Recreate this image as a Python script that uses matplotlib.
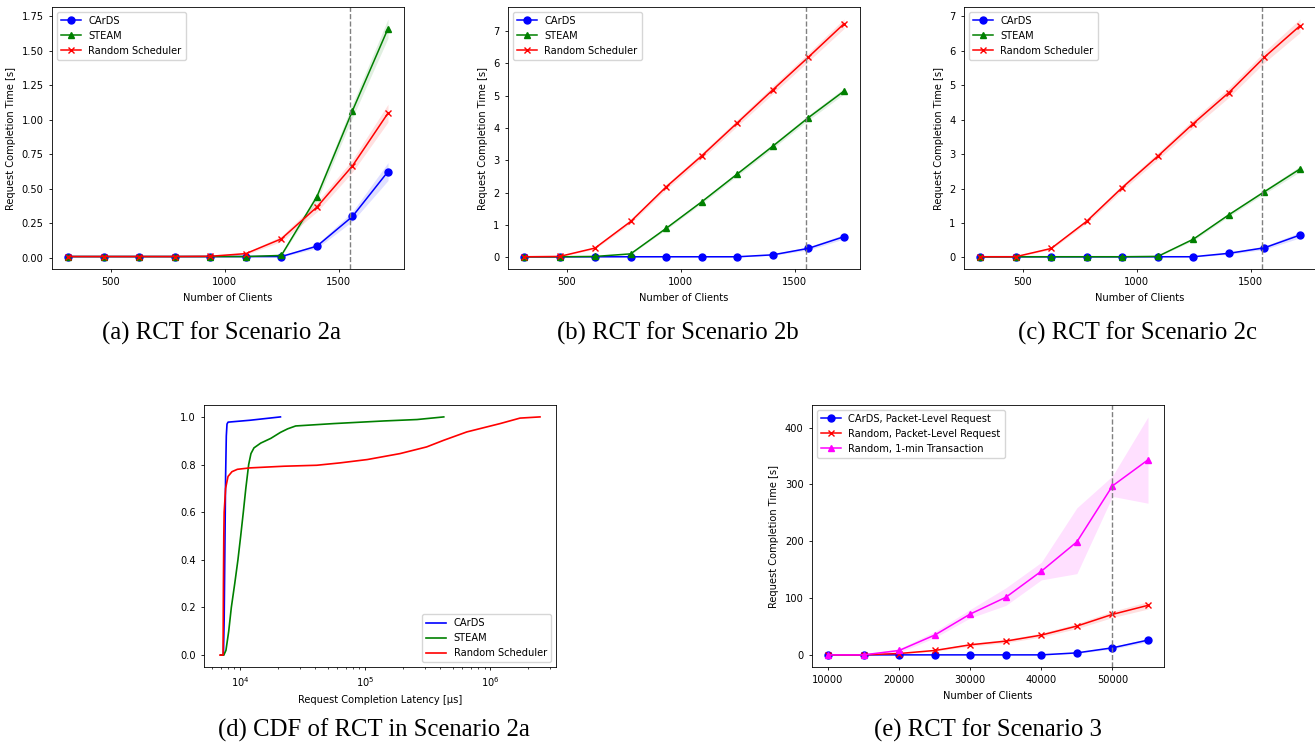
import matplotlib
matplotlib.use("Agg")
import matplotlib.pyplot as plt

# ---- data ----
clients = [312, 468, 624, 780, 936, 1092, 1248, 1404, 1560, 1716]
clients_s3 = [10000, 15000, 20000, 25000, 30000, 35000, 40000, 45000, 50000, 55000]

# scenario 2a
a_cards = [0.01, 0.01, 0.01, 0.01, 0.01, 0.01, 0.01, 0.085, 0.30, 0.625]
a_cards_err = [0.003, 0.003, 0.003, 0.003, 0.003, 0.003, 0.004, 0.015, 0.035, 0.065]
a_steam = [0.01, 0.01, 0.01, 0.01, 0.01, 0.01, 0.018, 0.443, 1.065, 1.66]
a_steam_err = [0.003, 0.003, 0.003, 0.003, 0.003, 0.003, 0.005, 0.03, 0.05, 0.07]
a_rand = [0.01, 0.01, 0.01, 0.01, 0.012, 0.031, 0.138, 0.368, 0.666, 1.048]
a_rand_err = [0.003, 0.003, 0.003, 0.003, 0.004, 0.008, 0.02, 0.035, 0.045, 0.065]

# scenario 2b
b_cards = [0.02, 0.02, 0.02, 0.02, 0.02, 0.02, 0.02, 0.08, 0.28, 0.64]
b_cards_err = [0.01, 0.01, 0.01, 0.01, 0.01, 0.01, 0.01, 0.02, 0.05, 0.07]
b_steam = [0.02, 0.02, 0.03, 0.11, 0.90, 1.72, 2.58, 3.44, 4.32, 5.14]
b_steam_err = [0.01, 0.01, 0.01, 0.02, 0.04, 0.05, 0.06, 0.07, 0.08, 0.09]
b_rand = [0.02, 0.03, 0.29, 1.11, 2.18, 3.14, 4.16, 5.18, 6.19, 7.22]
b_rand_err = [0.01, 0.01, 0.03, 0.06, 0.08, 0.09, 0.1, 0.12, 0.13, 0.15]

# scenario 2c
c_cards = [0.02, 0.02, 0.02, 0.02, 0.02, 0.02, 0.02, 0.12, 0.28, 0.65]
c_cards_err = [0.01, 0.01, 0.01, 0.01, 0.01, 0.01, 0.01, 0.03, 0.05, 0.08]
c_steam = [0.02, 0.02, 0.02, 0.02, 0.02, 0.03, 0.53, 1.24, 1.91, 2.57]
c_steam_err = [0.01, 0.01, 0.01, 0.01, 0.01, 0.01, 0.04, 0.05, 0.06, 0.08]
c_rand = [0.02, 0.02, 0.26, 1.05, 2.03, 2.94, 3.89, 4.79, 5.82, 6.73]
c_rand_err = [0.01, 0.01, 0.03, 0.06, 0.08, 0.1, 0.12, 0.14, 0.16, 0.2]

# CDF of latencies in scenario 2a  (latency [us], cdf)
cdf_cards_lat = [7000, 7350, 7450, 7550, 7650, 7750, 7850, 8000, 12000, 21000]
cdf_cards_val = [0.0, 0.0, 0.15, 0.45, 0.75, 0.92, 0.97, 0.978, 0.986, 1.0]
cdf_steam_lat = [7000, 7400, 7700, 8100, 8500, 9050, 9600, 10100, 10600, 11100,
                 11700, 12200, 12900, 14600, 17600, 21000, 24000, 27800, 56000,
                 141000, 260000, 425000]
cdf_steam_val = [0.0, 0.0, 0.02, 0.1, 0.2, 0.3, 0.4, 0.5, 0.6, 0.7,
                 0.8, 0.846, 0.87, 0.89, 0.91, 0.935, 0.95, 0.962, 0.972,
                 0.983, 0.989, 1.0]
cdf_rand_lat = [6900, 7300, 7350, 7400, 7450, 7650, 8000, 8600, 9500, 12000,
                22500, 41000, 63000, 104000, 190000, 310000, 425000, 650000,
                1200000, 1730000, 2500000]
cdf_rand_val = [0.0, 0.0, 0.3, 0.5, 0.6, 0.7, 0.75, 0.77, 0.78, 0.786,
                0.793, 0.797, 0.807, 0.821, 0.846, 0.874, 0.902, 0.937,
                0.972, 0.995, 1.0]

# scenario 3
s3_cards = [0, 0, 0, 0, 0, 0, 0, 3.5, 12.4, 26]
s3_cards_err = [0.3, 0.3, 0.3, 0.3, 0.3, 0.3, 0.4, 1.0, 2.0, 3.0]
s3_rand = [0, 0, 2.4, 7.7, 17.7, 24.2, 34.8, 50.7, 71.3, 87.2]
s3_rand_err = [0.3, 0.3, 1.0, 1.5, 2.5, 3.0, 3.5, 4.5, 5.5, 6.5]
s3_tx = [0, 0, 7.7, 34.8, 71.9, 101.3, 147.3, 199, 297.5, 343.4]
s3_tx_lo = [0, 0, 4, 30, 65, 87, 132, 143, 279, 267]
s3_tx_hi = [0.5, 0.5, 11, 41, 80, 118, 163, 259, 315, 419]

W, H = 1315, 743
plt.rcParams['font.size'] = 7.1
plt.rcParams['axes.linewidth'] = 0.6
plt.rcParams['xtick.major.width'] = 0.6
plt.rcParams['ytick.major.width'] = 0.6
plt.rcParams['xtick.minor.width'] = 0.5
plt.rcParams['xtick.major.size'] = 2.5
plt.rcParams['ytick.major.size'] = 2.5
plt.rcParams['xtick.minor.size'] = 1.5


def band_line(ax, x, y, lo, hi, color, marker, label):
    ax.fill_between(x, lo, hi, color=color, alpha=0.12, lw=0)
    ax.plot(x, y, color=color, marker=marker, lw=1.1, ms=5, label=label)


def rct_panel(ax, cards, cards_err, steam, steam_err, rand, rand_err):
    for y, e, col, mk, lab in [(cards, cards_err, 'blue', 'o', 'CArDS'),
                               (steam, steam_err, 'green', '^', 'STEAM'),
                               (rand, rand_err, 'red', 'x', 'Random Scheduler')]:
        lo = [v - d for v, d in zip(y, e)]
        hi = [v + d for v, d in zip(y, e)]
        band_line(ax, clients, y, lo, hi, col, mk, lab)
    ax.axvline(1550, color='gray', ls='--', lw=1.0)
    ax.set_xticks([500, 1000, 1500])
    ax.set_xlabel("Number of Clients")
    ax.set_ylabel("Request Completion Time [s]")
    ax.legend(loc='upper left')


fig = plt.figure(figsize=(W / 100, H / 100), dpi=100)

def px_axes(left, top, w=352, h=262):
    return fig.add_axes([left / W, (H - top - h) / H, w / W, h / H])

ax_a = px_axes(52, 7)
ax_b = px_axes(508, 7)
ax_c = px_axes(964, 7)
ax_d = px_axes(204, 405)
ax_e = px_axes(812, 405)

rct_panel(ax_a, a_cards, a_cards_err, a_steam, a_steam_err, a_rand, a_rand_err)
ax_a.set_yticks([0, 0.25, 0.5, 0.75, 1.0, 1.25, 1.5, 1.75])
rct_panel(ax_b, b_cards, b_cards_err, b_steam, b_steam_err, b_rand, b_rand_err)
rct_panel(ax_c, c_cards, c_cards_err, c_steam, c_steam_err, c_rand, c_rand_err)

# CDF panel
ax_d.plot(cdf_cards_lat, cdf_cards_val, color='blue', lw=1.2, label='CArDS')
ax_d.plot(cdf_steam_lat, cdf_steam_val, color='green', lw=1.2, label='STEAM')
ax_d.plot(cdf_rand_lat, cdf_rand_val, color='red', lw=1.2, label='Random Scheduler')
ax_d.set_xscale('log')
ax_d.set_xlabel("Request Completion Latency [\u03bcs]")
ax_d.legend(loc='lower right')

# scenario 3
band_line(ax_e, clients_s3, s3_cards,
          [v - d for v, d in zip(s3_cards, s3_cards_err)],
          [v + d for v, d in zip(s3_cards, s3_cards_err)],
          'blue', 'o', 'CArDS, Packet-Level Request')
band_line(ax_e, clients_s3, s3_rand,
          [v - d for v, d in zip(s3_rand, s3_rand_err)],
          [v + d for v, d in zip(s3_rand, s3_rand_err)],
          'red', 'x', 'Random, Packet-Level Request')
band_line(ax_e, clients_s3, s3_tx, s3_tx_lo, s3_tx_hi,
          'magenta', '^', 'Random, 1-min Transaction')
ax_e.axvline(50000, color='gray', ls='--', lw=1.0)
ax_e.set_xticks([10000, 20000, 30000, 40000, 50000])
ax_e.set_xlabel("Number of Clients")
ax_e.set_ylabel("Request Completion Time [s]")
ax_e.legend(loc='upper left')

# captions
cap = dict(family='Liberation Serif', fontsize=17.8, ha='center', va='center')
fig.text(222 / W, 1 - 333 / H, "(a) RCT for Scenario 2a", **cap)
fig.text(678 / W, 1 - 333 / H, "(b) RCT for Scenario 2b", **cap)
fig.text(1137 / W, 1 - 333 / H, "(c) RCT for Scenario 2c", **cap)
fig.text(374 / W, 1 - 730 / H, "(d) CDF of RCT in Scenario 2a", **cap)
fig.text(988 / W, 1 - 730 / H, "(e) RCT for Scenario 3", **cap)

fig.savefig("out.png", dpi=100)
